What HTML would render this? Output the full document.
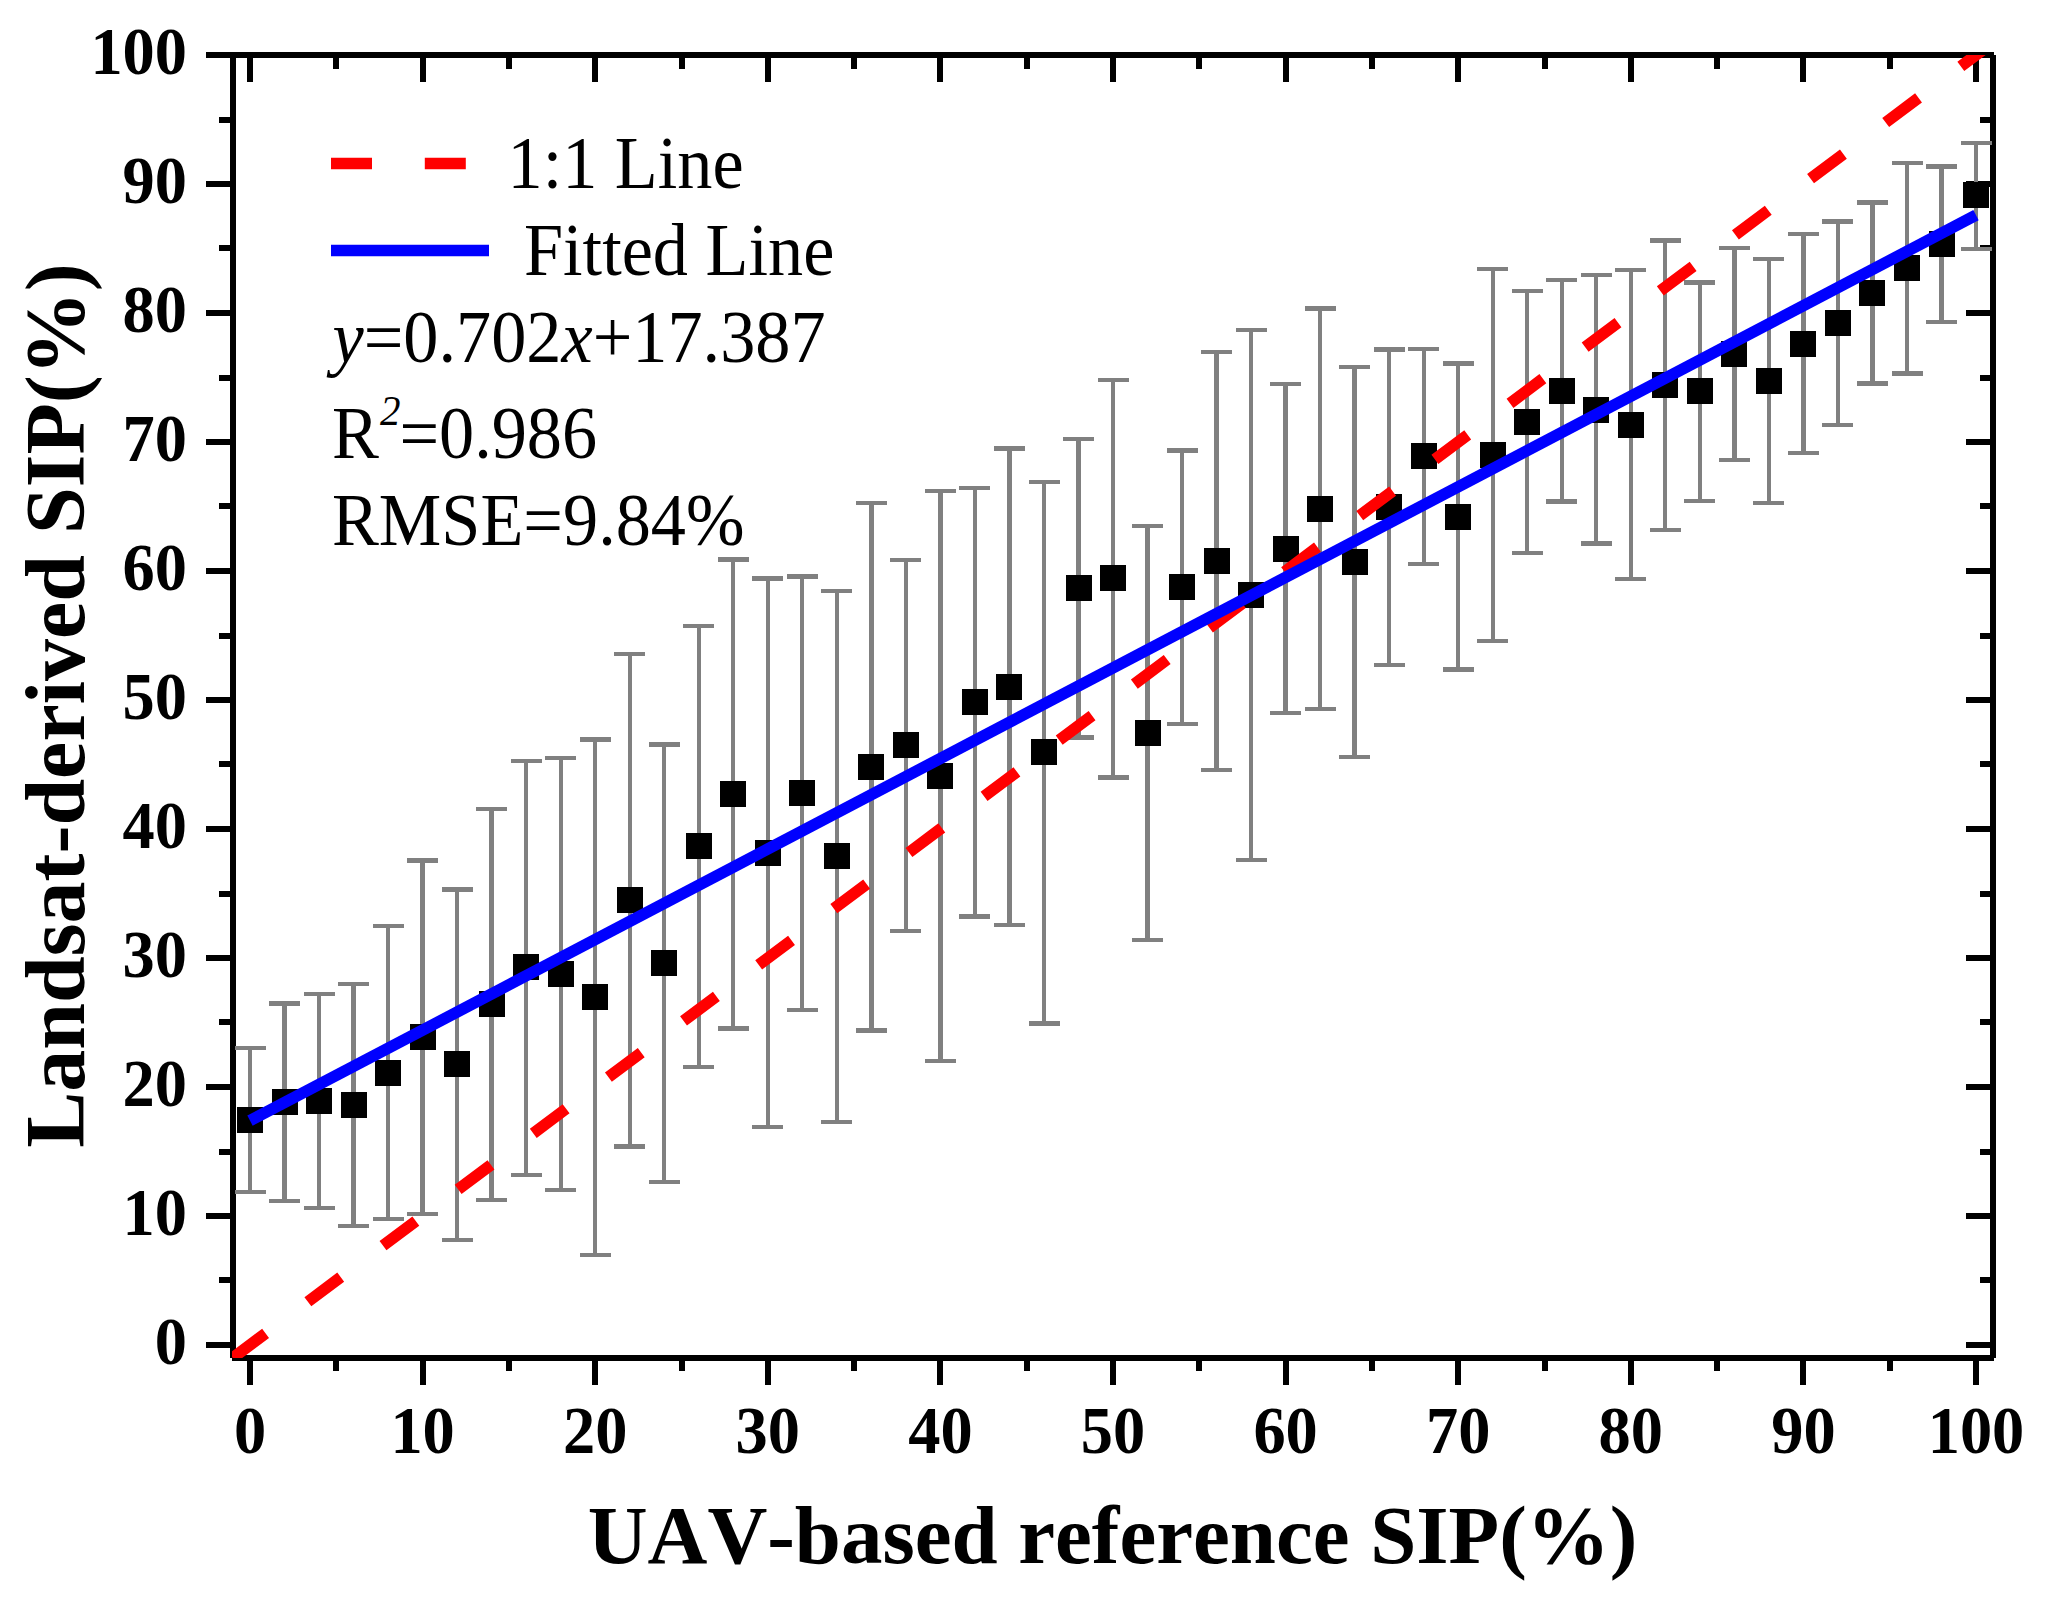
<!DOCTYPE html>
<html lang="en"><head><meta charset="utf-8"><title>Landsat-derived SIP vs UAV-based reference SIP</title>
<style>
html,body{margin:0;padding:0;background:#fff;}
body{width:2047px;height:1606px;overflow:hidden;}
svg{display:block;}
text{font-family:"Liberation Serif","Times New Roman",Times,serif;fill:#000;font-kerning:none;font-variant-ligatures:none;}
.tk{font-size:64.4px;font-weight:bold;}
.ti{font-size:82.9px;font-weight:bold;}
.lg{font-size:70.3px;}
.it{font-style:italic;}
</style></head><body>
<svg width="2047" height="1606" viewBox="0 0 2047 1606">
<rect width="2047" height="1606" fill="#fff"/>
<defs><clipPath id="pc"><rect x="232" y="55" width="1761" height="1303"/></clipPath></defs>
<g stroke="#000" stroke-width="6" fill="none" shape-rendering="crispEdges">
<path d="M230 55H1994M232 1358H1994M233 55V1358M1993 55V1358"/>
<path d="M250 1358v27M250 55v27M233 1345h-27M1993 1345h-27M336 1358v13M336 55v14M233 1280h-14M1993 1280h-13M423 1358v27M423 55v27M233 1216h-27M1993 1216h-27M509 1358v13M509 55v14M233 1152h-14M1993 1152h-13M595 1358v27M595 55v27M233 1087h-27M1993 1087h-27M682 1358v13M682 55v14M233 1022h-14M1993 1022h-13M768 1358v27M768 55v27M233 958h-27M1993 958h-27M854 1358v13M854 55v14M233 894h-14M1993 894h-13M940 1358v27M940 55v27M233 829h-27M1993 829h-27M1027 1358v13M1027 55v14M233 764h-14M1993 764h-13M1113 1358v27M1113 55v27M233 700h-27M1993 700h-27M1199 1358v13M1199 55v14M233 636h-14M1993 636h-13M1286 1358v27M1286 55v27M233 571h-27M1993 571h-27M1372 1358v13M1372 55v14M233 506h-14M1993 506h-13M1458 1358v27M1458 55v27M233 442h-27M1993 442h-27M1545 1358v13M1545 55v14M233 378h-14M1993 378h-13M1631 1358v27M1631 55v27M233 313h-27M1993 313h-27M1717 1358v13M1717 55v14M233 248h-14M1993 248h-13M1803 1358v27M1803 55v27M233 184h-27M1993 184h-27M1890 1358v13M1890 55v14M233 120h-14M1993 120h-13M1976 1358v27M1976 55v27M233 55h-27M1993 55h-27"/>
</g>
<path d="M250.0 1048.0V1192.2M234.5 1048.0h31M234.5 1192.2h31M284.5 1003.4V1201.2M269.0 1003.4h31M269.0 1201.2h31M319.0 993.9V1207.7M303.5 993.9h31M303.5 1207.7h31M353.6 983.9V1225.7M338.1 983.9h31M338.1 1225.7h31M388.1 925.8V1219.2M372.6 925.8h31M372.6 1219.2h31M422.6 860.5V1213.7M407.1 860.5h31M407.1 1213.7h31M457.1 889.6V1239.8M441.6 889.6h31M441.6 1239.8h31M491.6 809.2V1199.7M476.1 809.2h31M476.1 1199.7h31M526.2 761.1V1174.7M510.7 761.1h31M510.7 1174.7h31M560.7 757.9V1189.9M545.2 757.9h31M545.2 1189.9h31M595.2 739.6V1254.8M579.7 739.6h31M579.7 1254.8h31M629.7 654.2V1146.6M614.2 654.2h31M614.2 1146.6h31M664.2 744.6V1181.9M648.7 744.6h31M648.7 1181.9h31M698.8 626.2V1067.3M683.3 626.2h31M683.3 1067.3h31M733.3 559.6V1028.4M717.8 559.6h31M717.8 1028.4h31M767.8 578.5V1126.8M752.3 578.5h31M752.3 1126.8h31M802.3 576.5V1009.8M786.8 576.5h31M786.8 1009.8h31M836.8 591.0V1121.8M821.3 591.0h31M821.3 1121.8h31M871.4 502.9V1030.4M855.9 502.9h31M855.9 1030.4h31M905.9 559.7V930.7M890.4 559.7h31M890.4 930.7h31M940.4 490.9V1060.9M924.9 490.9h31M924.9 1060.9h31M974.9 487.9V916.5M959.4 487.9h31M959.4 916.5h31M1009.4 448.4V925.0M993.9 448.4h31M993.9 925.0h31M1044.0 481.9V1023.4M1028.5 481.9h31M1028.5 1023.4h31M1078.5 438.9V737.5M1063.0 438.9h31M1063.0 737.5h31M1113.0 379.9V777.5M1097.5 379.9h31M1097.5 777.5h31M1147.5 525.9V939.7M1132.0 525.9h31M1132.0 939.7h31M1182.0 450.4V723.7M1166.5 450.4h31M1166.5 723.7h31M1216.6 351.8V769.9M1201.1 351.8h31M1201.1 769.9h31M1251.1 330.3V859.7M1235.6 330.3h31M1235.6 859.7h31M1285.6 384.2V713.3M1270.1 384.2h31M1270.1 713.3h31M1320.1 308.6V709.2M1304.6 308.6h31M1304.6 709.2h31M1354.6 366.9V756.8M1339.1 366.9h31M1339.1 756.8h31M1389.2 349.4V664.7M1373.7 349.4h31M1373.7 664.7h31M1423.7 348.9V563.9M1408.2 348.9h31M1408.2 563.9h31M1458.2 363.4V669.4M1442.7 363.4h31M1442.7 669.4h31M1492.7 269.0V640.9M1477.2 269.0h31M1477.2 640.9h31M1527.2 291.1V553.2M1511.7 291.1h31M1511.7 553.2h31M1561.8 280.3V501.6M1546.3 280.3h31M1546.3 501.6h31M1596.3 275.3V543.5M1580.8 275.3h31M1580.8 543.5h31M1630.8 269.8V578.9M1615.3 269.8h31M1615.3 578.9h31M1665.3 240.5V529.8M1649.8 240.5h31M1649.8 529.8h31M1699.8 282.5V500.9M1684.3 282.5h31M1684.3 500.9h31M1734.4 247.9V459.8M1718.9 247.9h31M1718.9 459.8h31M1768.9 258.9V503.3M1753.4 258.9h31M1753.4 503.3h31M1803.4 233.9V452.8M1787.9 233.9h31M1787.9 452.8h31M1837.9 221.4V425.0M1822.4 221.4h31M1822.4 425.0h31M1872.4 202.4V383.4M1856.9 202.4h31M1856.9 383.4h31M1907.0 162.9V373.4M1891.5 162.9h31M1891.5 373.4h31M1941.5 166.5V321.9M1926.0 166.5h31M1926.0 321.9h31M1976.0 142.7V248.9M1960.5 142.7h31M1960.5 248.9h31" stroke="#808080" stroke-width="4.3" fill="none" shape-rendering="crispEdges" clip-path="url(#pc)"/>
<path d="M237.0 1107.1h26v26h-26zM271.5 1089.2h26v26h-26zM306.0 1087.7h26v26h-26zM340.6 1092.1h26v26h-26zM375.1 1060.0h26v26h-26zM409.6 1024.0h26v26h-26zM444.1 1051.0h26v26h-26zM478.6 991.4h26v26h-26zM513.2 954.1h26v26h-26zM547.7 960.9h26v26h-26zM582.2 983.9h26v26h-26zM616.7 886.9h26v26h-26zM651.2 949.8h26v26h-26zM685.8 833.1h26v26h-26zM720.3 781.0h26v26h-26zM754.8 840.0h26v26h-26zM789.3 780.2h26v26h-26zM823.8 843.0h26v26h-26zM858.4 753.5h26v26h-26zM892.9 732.4h26v26h-26zM927.4 762.9h26v26h-26zM961.9 689.0h26v26h-26zM996.4 674.0h26v26h-26zM1031.0 739.1h26v26h-26zM1065.5 575.0h26v26h-26zM1100.0 565.1h26v26h-26zM1134.5 720.2h26v26h-26zM1169.0 574.0h26v26h-26zM1203.6 548.1h26v26h-26zM1238.1 582.0h26v26h-26zM1272.6 536.0h26v26h-26zM1307.1 495.9h26v26h-26zM1341.6 549.0h26v26h-26zM1376.2 493.9h26v26h-26zM1410.7 443.3h26v26h-26zM1445.2 503.5h26v26h-26zM1479.7 442.1h26v26h-26zM1514.2 409.0h26v26h-26zM1548.8 377.9h26v26h-26zM1583.3 397.0h26v26h-26zM1617.8 411.5h26v26h-26zM1652.3 372.0h26v26h-26zM1686.8 378.3h26v26h-26zM1721.4 340.9h26v26h-26zM1755.9 367.9h26v26h-26zM1790.4 330.5h26v26h-26zM1824.9 310.2h26v26h-26zM1859.4 280.1h26v26h-26zM1894.0 255.0h26v26h-26zM1928.5 231.0h26v26h-26zM1963.0 182.2h26v26h-26z" fill="#000" shape-rendering="crispEdges" clip-path="url(#pc)"/>
<g clip-path="url(#pc)" fill="none" stroke-width="11.5">
<path d="M232.74 1357.90L2010.52 29.20" stroke="#f00" stroke-dasharray="41 52.8"/>
<path d="M250.00 1120.71L1976.00 215.13" stroke="#00f"/>
</g>
<path d="M331 163.5H489" stroke="#f00" stroke-width="11.5" stroke-dasharray="41 52.8" fill="none"/>
<path d="M331 250.5H489" stroke="#00f" stroke-width="11.5" fill="none"/>
<text class="lg" transform="translate(507.5 188.2) scale(1 1.045)">1:1 Line</text>
<text class="lg" transform="translate(524 275.3) scale(1 1.045)">Fitted Line</text>
<text class="lg" transform="translate(332.5 361.6) scale(1 1.045)"><tspan class="it">y</tspan>=0.702<tspan class="it">x</tspan>+17.387</text>
<text class="lg" transform="translate(332 457.5) scale(1 1.045)">R<tspan class="it" font-size="41" dx="1" dy="-31">2</tspan><tspan dx="-1" dy="31">=0.986</tspan></text>
<text class="lg" transform="translate(332 544.5) scale(1 1.045)">RMSE=9.84%</text>
<text class="tk" text-anchor="middle" transform="translate(250 1453) scale(1 1.04)">0</text>
<text class="tk" text-anchor="middle" transform="translate(422.6 1453) scale(1 1.04)">10</text>
<text class="tk" text-anchor="middle" transform="translate(595.2 1453) scale(1 1.04)">20</text>
<text class="tk" text-anchor="middle" transform="translate(767.8 1453) scale(1 1.04)">30</text>
<text class="tk" text-anchor="middle" transform="translate(940.4 1453) scale(1 1.04)">40</text>
<text class="tk" text-anchor="middle" transform="translate(1113 1453) scale(1 1.04)">50</text>
<text class="tk" text-anchor="middle" transform="translate(1285.6 1453) scale(1 1.04)">60</text>
<text class="tk" text-anchor="middle" transform="translate(1458.2 1453) scale(1 1.04)">70</text>
<text class="tk" text-anchor="middle" transform="translate(1630.8 1453) scale(1 1.04)">80</text>
<text class="tk" text-anchor="middle" transform="translate(1803.4 1453) scale(1 1.04)">90</text>
<text class="tk" text-anchor="middle" transform="translate(1976 1453) scale(1 1.04)">100</text>
<text class="tk" text-anchor="end" transform="translate(187 1364.3) scale(1 1.04)">0</text>
<text class="tk" text-anchor="end" transform="translate(187 1235.3) scale(1 1.04)">10</text>
<text class="tk" text-anchor="end" transform="translate(187 1106.3) scale(1 1.04)">20</text>
<text class="tk" text-anchor="end" transform="translate(187 977.3) scale(1 1.04)">30</text>
<text class="tk" text-anchor="end" transform="translate(187 848.3) scale(1 1.04)">40</text>
<text class="tk" text-anchor="end" transform="translate(187 719.3) scale(1 1.04)">50</text>
<text class="tk" text-anchor="end" transform="translate(187 590.3) scale(1 1.04)">60</text>
<text class="tk" text-anchor="end" transform="translate(187 461.3) scale(1 1.04)">70</text>
<text class="tk" text-anchor="end" transform="translate(187 332.3) scale(1 1.04)">80</text>
<text class="tk" text-anchor="end" transform="translate(187 203.3) scale(1 1.04)">90</text>
<text class="tk" text-anchor="end" transform="translate(187 74.3) scale(1 1.04)">100</text>
<text class="ti" text-anchor="middle" transform="translate(1112.5 1562.8) scale(1 1)">UAV-based reference SIP(%)</text>
<text class="ti" style="font-size:84px" text-anchor="middle" transform="translate(84 705.5) rotate(-90)">Landsat-derived SIP(%)</text>
</svg>
</body></html>
